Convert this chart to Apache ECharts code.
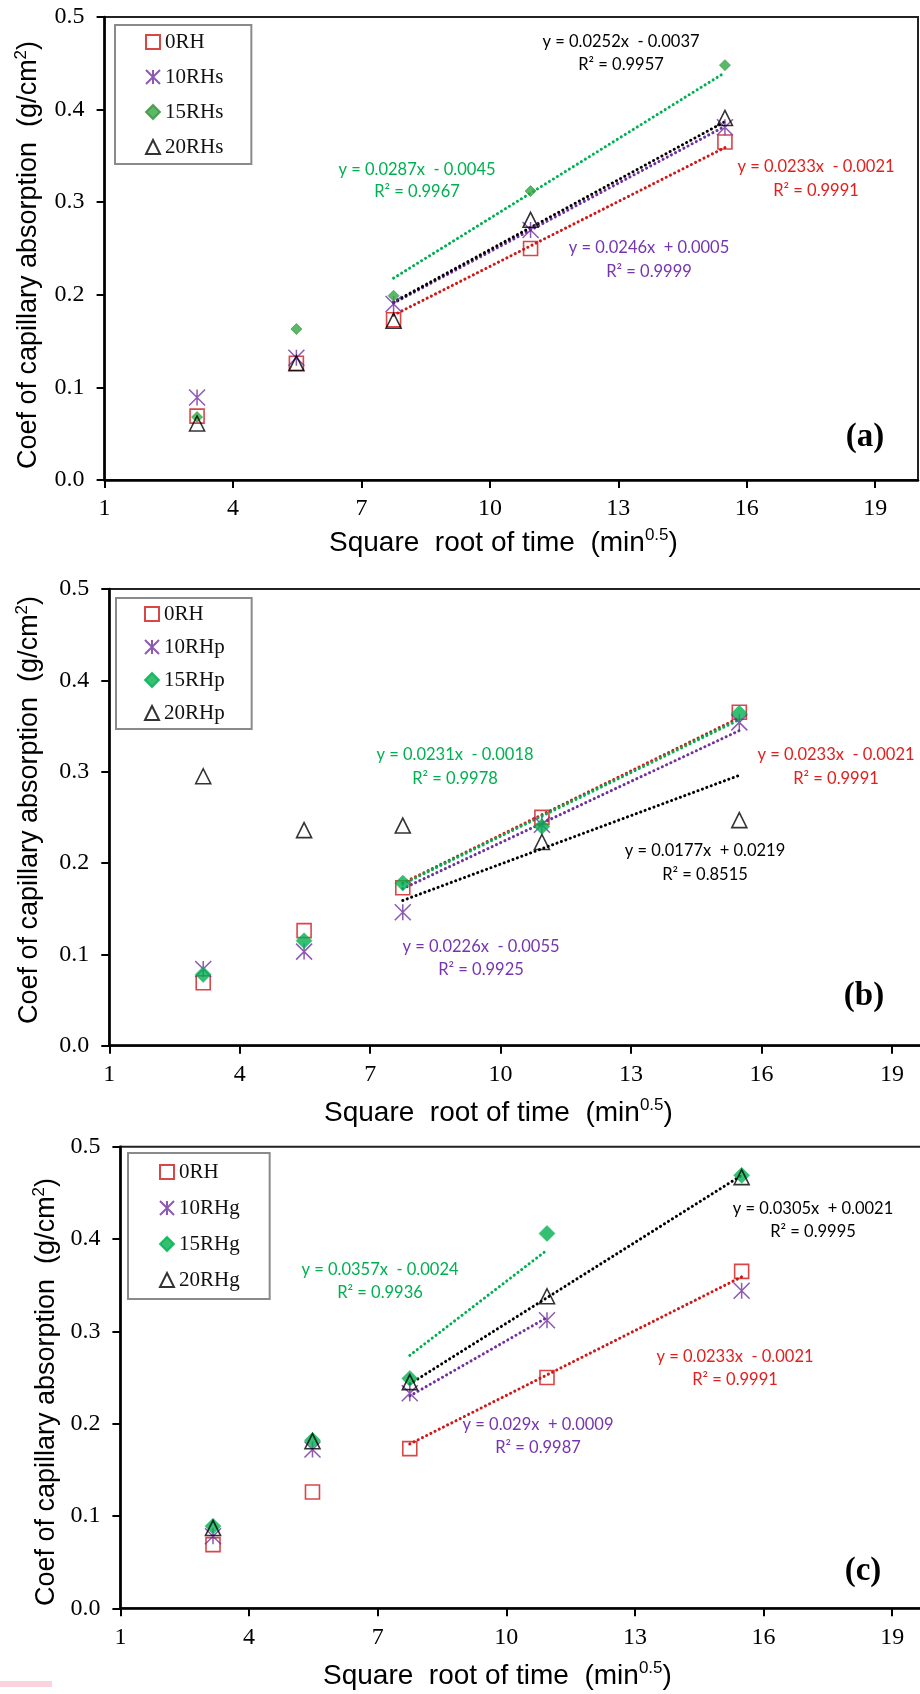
<!DOCTYPE html>
<html><head><meta charset="utf-8">
<script src="https://cdn.jsdelivr.net/npm/echarts@6/dist/echarts.min.js"></script>
<style>html,body{margin:0;padding:0;background:#fff}#c{width:920px;height:1694px}</style>
</head><body><div id="c"></div>
<script>
// ---- data ----
const xTime = [3.16, 5.48, 7.75, 10.95, 15.49];
const yTicks = [0.0, 0.1, 0.2, 0.3, 0.4, 0.5];
const xTickLabels = [1, 4, 7, 10, 13, 16, 19];

const a0RH   = [0.069, 0.126, 0.173, 0.250, 0.365];
const a10RHs = [0.089, 0.132, 0.190, 0.270, 0.381];
const a15RHs = [0.068, 0.163, 0.199, 0.312, 0.448];
const a20RHs = [0.061, 0.126, 0.172, 0.281, 0.391];

const b0RH   = [0.069, 0.126, 0.173, 0.250, 0.365];
const b10RHp = [0.084, 0.103, 0.146, 0.242, 0.354];
const b15RHp = [0.078, 0.115, 0.178, 0.240, 0.364];
const b20RHp = [0.295, 0.236, 0.241, 0.223, 0.247];

const c0RH   = [0.069, 0.126, 0.173, 0.250, 0.365];
const c10RHg = [0.078, 0.172, 0.233, 0.312, 0.344];
const c15RHg = [0.089, 0.182, 0.249, 0.406, 0.469];
const c20RHg = [0.087, 0.181, 0.245, 0.338, 0.467];

// trendline end points [x, y]
const aTrend0RH = [[7.75, 0.178], [15.49, 0.359]];
const aTrend10  = [[7.75, 0.191], [15.49, 0.382]];
const aTrend15  = [[7.75, 0.218], [15.49, 0.440]];
const aTrend20  = [[7.75, 0.192], [15.49, 0.387]];
const bTrend0RH = [[7.75, 0.178], [15.49, 0.359]];
const bTrend10  = [[7.75, 0.172], [15.49, 0.345]];
const bTrend15  = [[7.75, 0.177], [15.49, 0.357]];
const bTrend20  = [[7.75, 0.159], [15.49, 0.296]];
const cTrend0RH = [[7.75, 0.178], [15.49, 0.359]];
const cTrend10  = [[7.75, 0.230], [10.95, 0.315]];
const cTrend15  = [[7.75, 0.274], [10.95, 0.388]];
const cTrend20  = [[7.75, 0.243], [15.49, 0.469]];

const namesA = ['0RH', '10RHs', '15RHs', '20RHs'];
const namesB = ['0RH', '10RHp', '15RHp', '20RHp'];
const namesC = ['0RH', '10RHg', '15RHg', '20RHg'];

// equation labels: [line1, line2]
const eqA = [['y = 0.0252x  - 0.0037', 'R² = 0.9957'], ['y = 0.0287x  - 0.0045', 'R² = 0.9967'],
             ['y = 0.0233x  - 0.0021', 'R² = 0.9991'], ['y = 0.0246x  + 0.0005', 'R² = 0.9999']];
const eqB = [['y = 0.0231x  - 0.0018', 'R² = 0.9978'], ['y = 0.0233x  - 0.0021', 'R² = 0.9991'],
             ['y = 0.0177x  + 0.0219', 'R² = 0.8515'], ['y = 0.0226x  - 0.0055', 'R² = 0.9925']];
const eqC = [['y = 0.0357x  - 0.0024', 'R² = 0.9936'], ['y = 0.0305x  + 0.0021', 'R² = 0.9995'],
             ['y = 0.0233x  - 0.0021', 'R² = 0.9991'], ['y = 0.029x  + 0.0009', 'R² = 0.9987']];

// ---- styles ----
const RED = '#d01818', PURPLE = '#7030a0', GREEN = '#00b050', BLACK = '#000000';
const RED_T = '#e0201e', PURPLE_T = '#7535b0', GREEN_T = '#00b050';
const SERIF = '"Liberation Serif", "Times New Roman", serif';
const SANS = '"Liberation Sans", Arial, sans-serif';
const EQF = 'Lato, "Open Sans", sans-serif';
const ASTER = 'path://M0,0L10,10M10,0L0,10M5,0L5,10';
const CLEAR = 'rgba(0,0,0,0)';

function mk(name, idx, vals, kind, big) {
  const s = {type: 'scatter', name, xAxisIndex: idx, yAxisIndex: idx, z: 4,
    data: xTime.map((x, i) => [x, vals[i]]), emphasis: {disabled: true}};
  if (kind === 'sq') { s.symbol = 'rect'; s.symbolSize = 14; s.itemStyle = {color: CLEAR, borderColor: RED, borderWidth: 1.6}; }
  if (kind === 'as') { s.symbol = ASTER; s.symbolSize = 16; s.itemStyle = {color: CLEAR, borderColor: PURPLE, borderWidth: 1.5}; }
  if (kind === 'di') { s.symbol = 'diamond'; s.symbolSize = big ? 16 : 11;
    s.itemStyle = big ? {color: GREEN, borderColor: GREEN, borderWidth: 0.5} : {color: '#2fa843', borderColor: '#3c8f3c', borderWidth: 0.8}; }
  if (kind === 'tr') { s.symbol = 'triangle'; s.symbolSize = 15; s.itemStyle = {color: CLEAR, borderColor: BLACK, borderWidth: 1.6}; }
  return s;
}
function tl(idx, pts, color) {
  return {type: 'line', name: 'trend', xAxisIndex: idx, yAxisIndex: idx, z: 3, data: pts, symbol: 'none', silent: true,
    lineStyle: {color, width: 3, type: [0.1, 4.6], cap: 'round'}, emphasis: {disabled: true}};
}

const series = [
  tl(0, aTrend0RH, RED), tl(0, aTrend10, PURPLE), tl(0, aTrend15, GREEN), tl(0, aTrend20, BLACK),
  mk(namesA[0], 0, a0RH, 'sq'), mk(namesA[1], 0, a10RHs, 'as'), mk(namesA[2], 0, a15RHs, 'di', false), mk(namesA[3], 0, a20RHs, 'tr'),
  tl(1, bTrend0RH, RED), tl(1, bTrend10, PURPLE), tl(1, bTrend15, GREEN), tl(1, bTrend20, BLACK),
  mk(namesB[0], 1, b0RH, 'sq'), mk(namesB[1], 1, b10RHp, 'as'), mk(namesB[2], 1, b15RHp, 'di', true), mk(namesB[3], 1, b20RHp, 'tr'),
  tl(2, cTrend0RH, RED), tl(2, cTrend10, PURPLE), tl(2, cTrend15, GREEN), tl(2, cTrend20, BLACK),
  mk(namesC[0], 2, c0RH, 'sq'), mk(namesC[1], 2, c10RHg, 'as'), mk(namesC[2], 2, c15RHg, 'di', true), mk(namesC[3], 2, c20RHg, 'tr')
];

const grids = [
  {left: 104.6, right: 2, top: 17, bottom: 1214},
  {left: 109.3, right: -15.4, top: 589, bottom: 648.3},
  {left: 120.4, right: -15, top: 1146.7, bottom: 85.7}
].map(g => Object.assign(g, {show: true, borderColor: '#222', borderWidth: 2, backgroundColor: CLEAR, outerBoundsMode: 'none', containLabel: false}));

const xAxes = [0, 1, 2].map(i => ({
  type: 'value', gridIndex: i, min: xTickLabels[0], max: 20, interval: xTickLabels[1] - xTickLabels[0],
  splitLine: {show: false},
  axisLine: {show: true, onZero: false, lineStyle: {color: '#000', width: 2.6}},
  axisTick: {show: true, inside: false, length: 8, lineStyle: {color: '#000', width: 2}},
  axisLabel: {show: true, margin: 17, color: '#000', fontFamily: SERIF, fontSize: 24, showMaxLabel: false,
    formatter: v => (xTickLabels.indexOf(v) >= 0 ? String(v) : '')}
}));
const yAxes = [0, 1, 2].map(i => ({
  type: 'value', gridIndex: i, min: yTicks[0], max: yTicks[yTicks.length - 1], interval: yTicks[1] - yTicks[0],
  splitLine: {show: false},
  axisLine: {show: true, onZero: false, lineStyle: {color: '#000', width: 2.6}},
  axisTick: {show: true, inside: false, length: 8, lineStyle: {color: '#000', width: 2}},
  axisLabel: {show: true, margin: 20, color: '#000', fontFamily: SERIF, fontSize: 24, formatter: v => v.toFixed(1)}
}));

function legend(names, left, top, pad, gap) {
  return {show: true, orient: 'vertical', left, top, data: names, itemWidth: 14, itemHeight: 14, itemGap: gap,
    padding: pad, borderColor: '#8a8a8a', borderWidth: 2, backgroundColor: '#fff', selectedMode: false,
    textStyle: {fontFamily: SERIF, fontSize: 21, color: '#111', lineHeight: 24}};
}

const graphic = [];
function eq(lines, cx, y1, y2, color) {
  graphic.push({type: 'text', x: cx, y: y1, silent: true, style: {text: lines[0], fill: color, font: '16.5px ' + EQF, align: 'center', verticalAlign: 'middle'}});
  graphic.push({type: 'text', x: cx, y: y2, silent: true, style: {text: lines[1], fill: color, font: '16.5px ' + EQF, align: 'center', verticalAlign: 'middle'}});
}
eq(eqA[0], 621, 42, 65, BLACK);
eq(eqA[1], 417, 170, 192, GREEN_T);
eq(eqA[2], 816, 167, 191, RED_T);
eq(eqA[3], 649, 248, 272, PURPLE_T);
eq(eqB[0], 455, 755, 779, GREEN_T);
eq(eqB[1], 836, 755, 779, RED_T);
eq(eqB[2], 705, 851, 875, BLACK);
eq(eqB[3], 481, 947, 970, PURPLE_T);
eq(eqC[0], 380, 1270, 1293, GREEN_T);
eq(eqC[1], 813, 1209, 1232, BLACK);
eq(eqC[2], 735, 1357, 1380, RED_T);
eq(eqC[3], 538, 1425, 1448, PURPLE_T);

const yTitle = '{a|Coef of capillary absorption  (g/cm}{s|2}{a|)}';
const xTitle = '{a|Square  root of time  (min}{s|0.5}{a|)}';
const richY = {a: {fontFamily: SANS, fontSize: 27, lineHeight: 32}, s: {fontFamily: SANS, fontSize: 17, lineHeight: 32, verticalAlign: 'top'}};
const richX = {a: {fontFamily: SANS, fontSize: 28, lineHeight: 32}, s: {fontFamily: SANS, fontSize: 17, lineHeight: 32, verticalAlign: 'top'}};
function ytitle(x, y) {
  graphic.push({type: 'text', x, y, rotation: Math.PI / 2, silent: true,
    style: {text: yTitle, rich: richY, fill: '#000', align: 'center', verticalAlign: 'middle'}});
}
function xtitle(x, y) {
  graphic.push({type: 'text', x, y, silent: true,
    style: {text: xTitle, rich: richX, fill: '#000', align: 'left', verticalAlign: 'middle'}});
}
ytitle(29, 255); ytitle(30, 810); ytitle(47, 1392);
xtitle(329, 543); xtitle(324, 1113); xtitle(323, 1676);

function plabel(t, x, y) {
  graphic.push({type: 'text', x, y, silent: true,
    style: {text: t, fill: '#000', font: 'bold 33px ' + SERIF, align: 'center', verticalAlign: 'middle'}});
}
plabel('(a)', 865, 437); plabel('(b)', 864, 996); plabel('(c)', 863, 1571);
graphic.push({type: 'rect', silent: true, shape: {x: 0, y: 1681, width: 52, height: 6}, style: {fill: '#f9d3dd'}});

const chart = echarts.init(document.getElementById('c'), null, {renderer: 'canvas'});
chart.setOption({
  animation: false,
  backgroundColor: '#fff',
  grid: grids,
  xAxis: xAxes,
  yAxis: yAxes,
  legend: [
    legend(namesA, 115, 25, [5, 28, 5, 30], 11),
    legend(namesB, 116, 598, [4, 27, 4, 28], 9),
    legend(namesC, 128, 1153, [7, 30, 7, 31], 12)
  ],
  series,
  graphic
});
</script></body></html>
